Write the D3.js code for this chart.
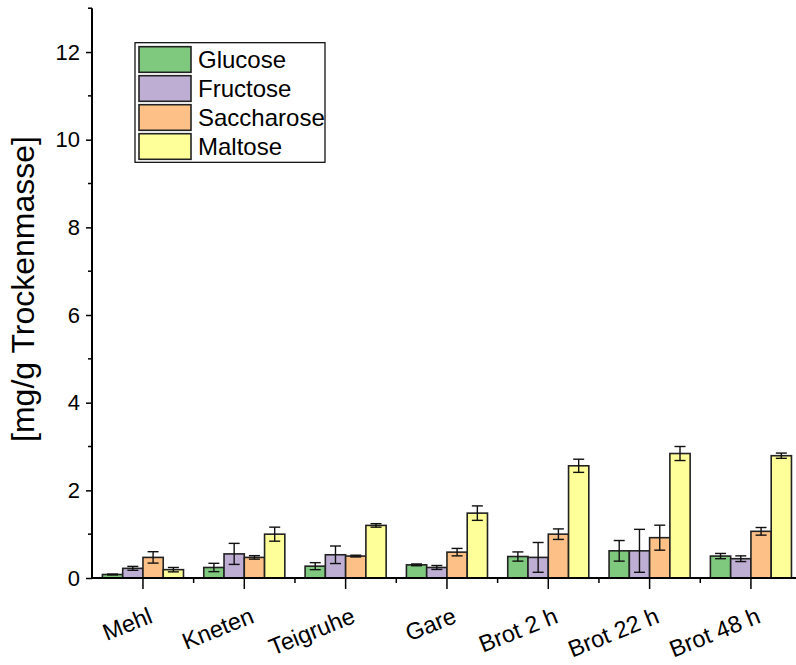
<!DOCTYPE html>
<html>
<head>
<meta charset="utf-8">
<script src="https://cdn.jsdelivr.net/npm/d3@7"></script>
<style>
  body { margin: 0; background: #fff; }
  svg { display: block; font-family: "Liberation Sans", Arial, sans-serif; }
</style>
</head>
<body>
<svg id="chart" width="796" height="665"></svg>
<script>
// categories and series
const stages = ["Mehl", "Kneten", "Teigruhe", "Gare", "Brot 2 h", "Brot 22 h", "Brot 48 h"];
const sugars = ["Glucose", "Fructose", "Saccharose", "Maltose"];
const colors = ["#7fc97f", "#beaed4", "#fdc086", "#ffff99"];

const glucose = [0.08, 0.24, 0.27, 0.30, 0.49, 0.62, 0.50];
const glucoseErr = [0.01, 0.095, 0.08, 0.02, 0.105, 0.235, 0.06];
const fructose = [0.22, 0.55, 0.53, 0.24, 0.47, 0.62, 0.44];
const fructoseErr = [0.045, 0.24, 0.2, 0.045, 0.34, 0.49, 0.065];
const saccharose = [0.47, 0.47, 0.50, 0.59, 1.00, 0.92, 1.065];
const saccharoseErr = [0.13, 0.04, 0.02, 0.085, 0.12, 0.285, 0.087];
const maltose = [0.19, 1.00, 1.20, 1.48, 2.56, 2.84, 2.79];
const maltoseErr = [0.05, 0.16, 0.04, 0.165, 0.15, 0.16, 0.06];

const yMajor = [0, 2, 4, 6, 8, 10, 12];
const yMinor = [1, 3, 5, 7, 9, 11, 13];

const values = [glucose, fructose, saccharose, maltose];
const errors = [glucoseErr, fructoseErr, saccharoseErr, maltoseErr];

const rows = [];
stages.forEach((st, i) => {
  sugars.forEach((s, j) => {
    rows.push({ stage: st, sugar: s, value: values[j][i], err: errors[j][i], color: colors[j] });
  });
});

const svg = d3.select("#chart");

// scales
const x = d3.scaleBand()
  .domain(stages)
  .range([92.3, 801.6])
  .paddingInner(0.2)
  .paddingOuter(0.1);

const xInner = d3.scaleBand()
  .domain(sugars)
  .range([0, x.bandwidth()]);

const y = d3.scaleLinear()
  .domain([0, 13])
  .range([578, 8.2]);

const step = x.step();

/* bars */
const bars = svg.append("g");
bars.selectAll("rect")
  .data(rows)
  .join("rect")
  .attr("x", d => x(d.stage) + xInner(d.sugar))
  .attr("y", d => y(d.value))
  .attr("width", xInner.bandwidth())
  .attr("height", d => y(0) - y(d.value))
  .attr("fill", d => d.color)
  .attr("stroke", "#222")
  .attr("stroke-width", 1.6);

/* error bars */
const errG = svg.append("g")
  .attr("stroke", "#111")
  .attr("stroke-width", 1.4);

rows.forEach(d => {
  const cx = x(d.stage) + xInner(d.sugar) + xInner.bandwidth() / 2;
  const top = y(d.value + d.err);
  const bot = y(d.value - d.err);
  errG.append("line").attr("x1", cx).attr("x2", cx).attr("y1", top).attr("y2", bot);
  errG.append("line").attr("x1", cx - 5.5).attr("x2", cx + 5.5).attr("y1", top).attr("y2", top);
  errG.append("line").attr("x1", cx - 5.5).attr("x2", cx + 5.5).attr("y1", bot).attr("y2", bot);
});

/* y axis */
const yAxisG = svg.append("g")
  .attr("transform", "translate(92,0)")
  .call(d3.axisLeft(y).tickValues(yMajor).tickSize(6).tickPadding(6).tickFormat(d3.format("d")));

yAxisG.select(".domain").remove();
yAxisG.selectAll(".tick line").attr("stroke", "#000").attr("stroke-width", 1.5);
yAxisG.selectAll(".tick text")
  .attr("font-size", 22)
  .attr("font-family", "Liberation Sans, Arial, sans-serif")
  .attr("fill", "#000");

yAxisG.selectAll(".minor")
  .data(yMinor)
  .join("line")
  .attr("class", "minor")
  .attr("x1", -4).attr("x2", 0)
  .attr("y1", d => y(d)).attr("y2", d => y(d))
  .attr("stroke", "#000")
  .attr("stroke-width", 1.5);

svg.append("line")
  .attr("x1", 92).attr("x2", 92)
  .attr("y1", y(13)).attr("y2", 579)
  .attr("stroke", "#000")
  .attr("stroke-width", 2);

/* x axis */
const xAxisG = svg.append("g")
  .attr("transform", "translate(0,578)");

xAxisG.append("line")
  .attr("x1", 91).attr("x2", 796)
  .attr("y1", 0).attr("y2", 0)
  .attr("stroke", "#000")
  .attr("stroke-width", 2);

xAxisG.selectAll(".major")
  .data(stages)
  .join("line")
  .attr("class", "major")
  .attr("x1", d => x(d) + x.bandwidth() / 2)
  .attr("x2", d => x(d) + x.bandwidth() / 2)
  .attr("y1", 0).attr("y2", 11)
  .attr("stroke", "#000")
  .attr("stroke-width", 1.5);

xAxisG.selectAll(".minorx")
  .data(stages)
  .join("line")
  .attr("class", "minorx")
  .attr("x1", d => x(d) + x.bandwidth() / 2 + step / 2)
  .attr("x2", d => x(d) + x.bandwidth() / 2 + step / 2)
  .attr("y1", 0).attr("y2", 5)
  .attr("stroke", "#000")
  .attr("stroke-width", 1.5);

xAxisG.selectAll(".xlab")
  .data(stages)
  .join("text")
  .attr("class", "xlab")
  .attr("transform", d => `translate(${x(d) + x.bandwidth() / 2 + 11},${44}) rotate(-22)`)
  .attr("text-anchor", "end")
  .attr("font-size", 23.5)
  .attr("fill", "#000")
  .text(d => d);

/* y label */
svg.append("text")
  .attr("transform", "translate(34,289) rotate(-90)")
  .attr("text-anchor", "middle")
  .attr("font-size", 32)
  .attr("fill", "#000")
  .text("[mg/g Trockenmasse]");

/* legend */
const legend = svg.append("g");
legend.append("rect")
  .attr("x", 135).attr("y", 42.7)
  .attr("width", 190).attr("height", 119.6)
  .attr("fill", "#fff")
  .attr("stroke", "#000")
  .attr("stroke-width", 1.2);

sugars.forEach((s, i) => {
  const ly = 46.7 + i * 29;
  legend.append("rect")
    .attr("x", 139).attr("y", ly)
    .attr("width", 52).attr("height", 25.6)
    .attr("fill", colors[i])
    .attr("stroke", "#222")
    .attr("stroke-width", 1.6);
  legend.append("text")
    .attr("x", 198).attr("y", ly + 21.5)
    .attr("font-size", 24)
    .attr("fill", "#000")
    .text(s);
});
</script>
</body>
</html>
